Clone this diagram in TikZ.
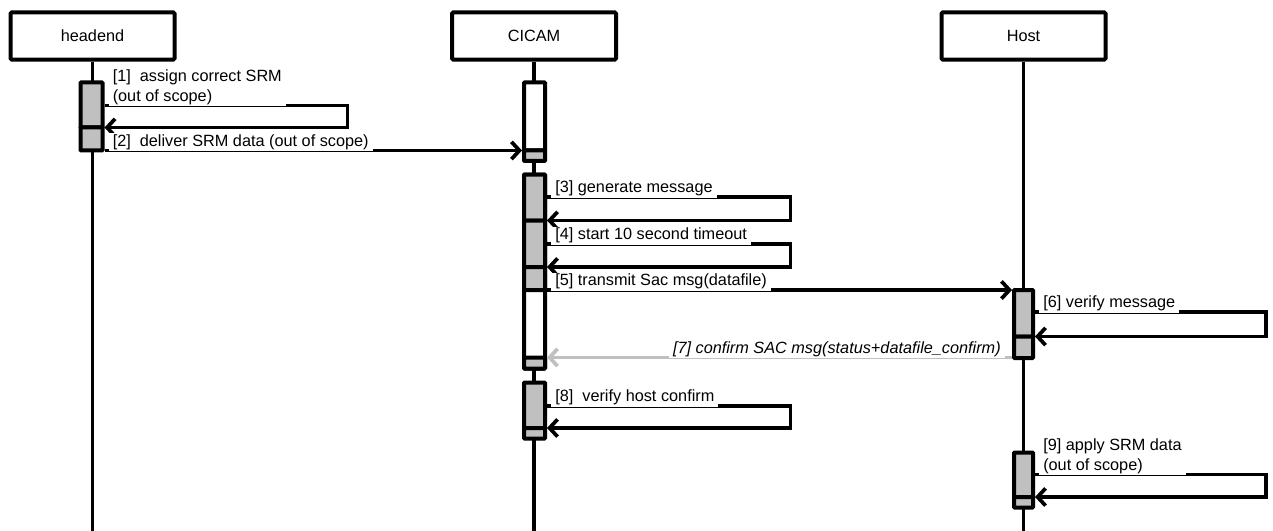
\documentclass[tikz,border=0pt]{standalone}
\usepackage{fontspec}
\setmainfont{Liberation Sans}
\usetikzlibrary{arrows.meta}
\definecolor{actgray}{RGB}{192,192,192}

\begin{document}
\begin{tikzpicture}[x=0.75pt,y=-0.75pt,
  font=\fontsize{12.2}{15}\selectfont,
  actor/.style={draw,line width=3pt,rounded corners=1pt,minimum width=123pt,minimum height=35.5pt,inner sep=0pt},
  life/.style={line width=2.8pt},
  bar/.style={draw,line width=3pt,fill=actgray,rounded corners=0.5pt},
  idle/.style={bar,fill=white},
  msg/.style={line width=2.8pt,-{Straight Barb[length=6pt,width=13pt]}},
  reply/.style={msg,draw=actgray},
  lbl/.style={fill=white,inner xsep=3pt,inner ysep=1pt,anchor=south west,align=left}]

 \useasboundingbox (0,0) rectangle (1273,531);

 % actors
 \node[actor] (headend) at (92.5,36) {headend};
 \node[actor] (cicam) at (534,36) {CICAM};
 \node[actor] (host) at (1023.5,36) {Host};

 \coordinate (e1) at (92.5,531);
 \coordinate (e2) at (534,531);
 \coordinate (e3) at (1023.5,531);

 \draw[life] (headend.south) -- (e1);
 \draw[life] (cicam.south) -- (e2);
 \draw[life] (host.south) -- (e3);

 % activation bars
 \draw[bar] (80.5,82.5) rectangle (102.5,127.5);
 \draw[bar] (80.5,127.5) rectangle (102.5,150.5);

 \draw[idle] (524,82.5) rectangle (545,150.5);
 \draw[bar] (524,150.5) rectangle (545,161);

 \draw[idle] (524,174.5) rectangle (545,368.5);
 \draw[bar] (524,174.5) rectangle (545,220.5);
 \draw[bar] (524,220.5) rectangle (545,267);
 \draw[bar] (524,267) rectangle (545,290);
 \draw[bar] (524,357.5) rectangle (545,368.5);

 \draw[bar] (1014,290) rectangle (1033,336.5);
 \draw[bar] (1014,336.5) rectangle (1033,358);

 \draw[bar] (524,382.5) rectangle (545,428);
 \draw[bar] (524,428) rectangle (545,438.5);

 \draw[bar] (1014,452.5) rectangle (1033,497);
 \draw[bar] (1014,497) rectangle (1033,507.5);

 % message ends
 \coordinate (m1) at (104.5,105.5);
 \coordinate (m1r) at (347.5,105.5);
 \coordinate (m1b) at (347.5,127.5);
 \coordinate (m1e) at (104.5,127.5);

 \coordinate (m2) at (104.5,150.5);
 \coordinate (m2e) at (522,150.5);

 \coordinate (m3) at (547,197);
 \coordinate (m3r) at (790.5,197);
 \coordinate (m3b) at (790.5,220.5);
 \coordinate (m3e) at (547,220.5);

 \coordinate (m4) at (547,244);
 \coordinate (m4r) at (790.5,244);
 \coordinate (m4b) at (790.5,267);
 \coordinate (m4e) at (547,267);

 \coordinate (m5) at (547,290);
 \coordinate (m5e) at (1012,290);

 \coordinate (m6) at (1035,312);
 \coordinate (m6r) at (1266,312);
 \coordinate (m6b) at (1266,336.5);
 \coordinate (m6e) at (1035,336.5);

 \coordinate (m7) at (1012,357.5);
 \coordinate (m7e) at (547,357.5);

 \coordinate (m8) at (547,406);
 \coordinate (m8r) at (790.5,406);
 \coordinate (m8b) at (790.5,428);
 \coordinate (m8e) at (547,428);

 \coordinate (m9) at (1035,474.5);
 \coordinate (m9r) at (1266,474.5);
 \coordinate (m9b) at (1266,497);
 \coordinate (m9e) at (1035,497);

 % messages
 \draw[msg] (m1) -- (m1r) -- (m1b) -- (m1e);
 \draw[msg] (m2) -- (m2e);
 \draw[msg] (m3) -- (m3r) -- (m3b) -- (m3e);
 \draw[msg] (m4) -- (m4r) -- (m4b) -- (m4e);
 \draw[msg] (m5) -- (m5e);
 \draw[msg] (m6) -- (m6r) -- (m6b) -- (m6e);
 \draw[reply] (m7) -- (m7e);
 \draw[msg] (m8) -- (m8r) -- (m8b) -- (m8e);
 \draw[msg] (m9) -- (m9r) -- (m9b) -- (m9e);

 % labels
 \node[lbl] (t1) at ([shift={(4,0.8)}]m1) {[1]\ \ assign correct SRM\\(out of scope)};
 \node[lbl] (t2) at ([shift={(4,0.8)}]m2) {[2]\ \ deliver SRM data (out of scope)};
 \node[lbl] (t3) at ([shift={(4,0.8)}]m3) {[3] generate message};
 \node[lbl] (t4) at ([shift={(4,0.8)}]m4) {[4] start 10 second timeout};
 \node[lbl] (t5) at ([shift={(4,0.8)}]m5) {[5] transmit Sac msg(datafile)};
 \node[lbl] (t6) at ([shift={(4,0.8)}]m6) {[6] verify message};
 \node[lbl,anchor=south east,font=\fontsize{12.2}{15}\selectfont\itshape] (t7) at ([shift={(-7,0.8)}]m7) {[7] confirm SAC msg(status+datafile\_confirm)};
 \node[lbl] (t8) at ([shift={(4,0.8)}]m8) {[8]\ \ verify host confirm};
 \node[lbl] (t9) at ([shift={(4,0.8)}]m9) {[9] apply SRM data\\(out of scope)};

\end{tikzpicture}
\end{document}
